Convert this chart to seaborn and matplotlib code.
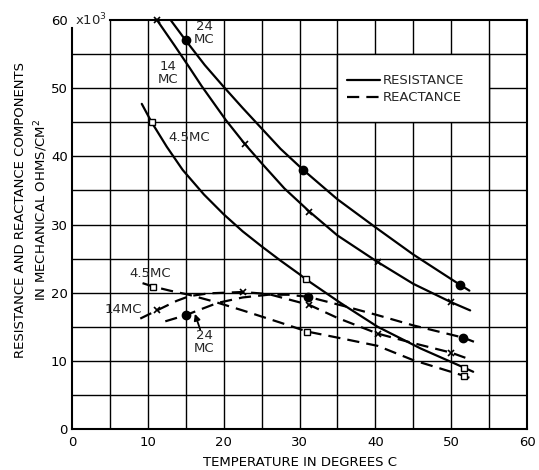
import matplotlib
matplotlib.use("Agg")
import matplotlib.pyplot as plt
from matplotlib.lines import Line2D
from matplotlib.patches import Rectangle
import pandas as pd
import seaborn as sns

sns.set_theme(style="white")
plt.rcParams["font.family"] = ["DejaVu Sans"]

# ---- resistance curves (solid) : temperature in deg C, value in 10^3 mech. ohms/cm^2
res_24_t = [13.0, 15.0, 17.5, 20.0, 22.5, 25.0, 27.5, 30.5, 35.0, 40.0, 45.0, 51.1, 52.4]
res_24_v = [60.0, 57.0, 53.4, 50.2, 47.1, 44.1, 41.1, 38.0, 33.7, 29.6, 25.6, 21.2, 20.3]
res_24_mark_t = [15.0, 30.5, 51.1]
res_24_mark_v = [57.0, 38.0, 21.2]

res_14_t = [11.2, 13.5, 15.5, 17.1, 20.3, 22.8, 25.0, 28.0, 31.3, 35.0, 40.3, 45.0, 50.0, 52.5]
res_14_v = [60.0, 56.3, 53.0, 50.3, 45.3, 41.8, 39.0, 35.3, 31.9, 28.4, 24.5, 21.3, 18.6, 17.4]
res_14_mark_t = [11.2, 22.8, 31.3, 40.3, 50.0]
res_14_mark_v = [60.0, 41.8, 31.9, 24.5, 18.6]

res_45_t = [9.2, 10.5, 12.5, 14.6, 17.4, 20.0, 22.5, 25.0, 27.5, 30.0, 30.8, 35.4, 40.3, 46.0, 51.7, 52.9]
res_45_v = [47.7, 45.0, 41.4, 38.0, 34.4, 31.5, 29.0, 26.8, 24.7, 22.7, 22.0, 18.5, 15.0, 11.8, 9.0, 8.4]
res_45_mark_t = [10.5, 30.8, 51.7]
res_45_mark_v = [45.0, 22.0, 9.0]

# ---- reactance curves (dashed)
rea_45_t = [9.3, 10.7, 12.9, 15.4, 18.7, 22.5, 27.5, 31.0, 35.5, 40.3, 45.0, 51.7, 52.9]
rea_45_v = [21.4, 20.9, 20.3, 19.7, 18.7, 17.4, 15.6, 14.3, 13.3, 12.2, 10.1, 7.8, 7.3]
rea_45_mark_t = [10.7, 31.0, 51.7]
rea_45_mark_v = [20.9, 14.3, 7.8]

rea_14_t = [9.0, 11.2, 13.8, 15.5, 18.0, 22.5, 25.9, 31.3, 35.0, 40.3, 45.0, 50.0, 52.5]
rea_14_v = [16.2, 17.4, 18.8, 19.5, 19.9, 20.1, 19.8, 18.2, 16.3, 14.0, 12.6, 11.2, 10.2]
rea_14_mark_t = [11.2, 22.5, 31.3, 40.3, 50.0]
rea_14_mark_v = [17.4, 20.1, 18.2, 14.0, 11.2]

rea_24_t = [12.3, 15.0, 16.6, 19.2, 22.5, 25.9, 28.5, 31.1, 36.0, 40.3, 45.0, 51.6, 53.0]
rea_24_v = [15.8, 16.7, 17.4, 18.5, 19.3, 19.7, 19.7, 19.4, 18.0, 16.7, 15.2, 13.4, 12.8]
rea_24_mark_t = [15.0, 31.1, 51.6]
rea_24_mark_v = [16.7, 19.4, 13.4]

x_ticks = [0, 10, 20, 30, 40, 50, 60]
y_ticks = [0, 10, 20, 30, 40, 50, 60]

FS = 9.5
LW = 1.6
DASH = (0, (5.5, 3.2))

fig = plt.figure(figsize=(5.39, 4.70), dpi=100)
ax = fig.add_axes([0.1336, 0.0872, 0.8442, 0.8702])
ax.set_xlim(0, 60)
ax.set_ylim(0, 60)

# square grid every 5 units
for g in range(5, 60, 5):
    ax.axvline(g, color="black", lw=1.0, zorder=1)
    ax.axhline(g, color="black", lw=1.0, zorder=1)

# legend panel masks the grid
ax.add_patch(Rectangle((35, 45), 20, 10, facecolor="white", edgecolor="black",
                       lw=1.0, zorder=2))

curves = [
    (res_24_t, res_24_v, "-"), (res_14_t, res_14_v, "-"), (res_45_t, res_45_v, "-"),
    (rea_45_t, rea_45_v, DASH), (rea_14_t, rea_14_v, DASH), (rea_24_t, rea_24_v, DASH),
]
for t, v, ls in curves:
    df = pd.DataFrame({"t": t, "v": v})
    sns.lineplot(data=df, x="t", y="v", ax=ax, color="black", lw=LW,
                 linestyle=ls, estimator=None, sort=False, zorder=3)

def marks(t, v, kind):
    if kind == "o":
        ax.plot(t, v, "o", ms=6, color="black", zorder=4, clip_on=False)
    elif kind == "s":
        ax.plot(t, v, "s", ms=4.5, mfc="white", mec="black", mew=1.0, zorder=4,
                clip_on=False)
    else:
        ax.plot(t, v, "x", ms=5, color="black", mew=1.2, zorder=4, clip_on=False)

marks(res_24_mark_t, res_24_mark_v, "o")
marks(rea_24_mark_t, rea_24_mark_v, "o")
marks(res_14_mark_t, res_14_mark_v, "x")
marks(rea_14_mark_t, rea_14_mark_v, "x")
marks(res_45_mark_t, res_45_mark_v, "s")
marks(rea_45_mark_t, rea_45_mark_v, "s")

# curve labels
txt = dict(fontsize=FS, ha="center", va="center", zorder=5, linespacing=1.0)
ax.text(17.4, 58.1, "24\nMC", **txt)
ax.text(12.6, 52.3, "14\nMC", **txt)
ax.text(15.4, 42.7, "4.5MC", **txt)
ax.text(10.3, 22.8, "4.5MC", **txt)
ax.text(6.8, 17.5, "14MC", **txt)
ax.text(17.4, 12.7, "24\nMC", **txt)
ax.annotate("", xy=(16.2, 16.9), xytext=(16.9, 14.6),
            arrowprops=dict(arrowstyle="-|>", color="black", lw=1.3,
                            mutation_scale=9, shrinkA=0, shrinkB=0), zorder=5)

handles = [Line2D([], [], color="black", lw=LW, linestyle="-"),
           Line2D([], [], color="black", lw=LW, linestyle=DASH)]
leg = ax.legend(handles, ["RESISTANCE", "REACTANCE"], loc="center left",
                bbox_to_anchor=(36.2 / 60, 49.85 / 60), frameon=False,
                fontsize=FS, handlelength=2.5, handletextpad=0.25,
                labelspacing=0.3, borderpad=0, borderaxespad=0)
leg.set_zorder(6)

# axes frame
for s in ax.spines.values():
    s.set_visible(True)
    s.set_color("black")
    s.set_linewidth(1.5)
ax.spines["top"].set_bounds(5, 60)
ax.spines["left"].set_bounds(0, 58.9)

ax.set_xticks(x_ticks)
ax.set_yticks(y_ticks)
ax.set_xticklabels([str(v) for v in x_ticks])
ax.set_yticklabels([str(v) for v in y_ticks])
ax.tick_params(axis="both", length=0, labelsize=FS, colors="black")
ax.tick_params(axis="x", pad=5)
ax.tick_params(axis="y", pad=3)
ax.text(0.4, 60, "x10$^3$", fontsize=FS, ha="left", va="center", zorder=7)

ax.set_xlabel("TEMPERATURE IN DEGREES C", fontsize=FS, color="black")
ax.xaxis.set_label_coords(0.5, -0.066)
ax.set_ylabel("RESISTANCE AND REACTANCE COMPONENTS\nIN MECHANICAL OHMS/CM$^2$",
              fontsize=FS, color="black", linespacing=1.35)
ax.yaxis.set_label_coords(-0.049, 0.535)

fig.savefig("out.png", dpi=100)
